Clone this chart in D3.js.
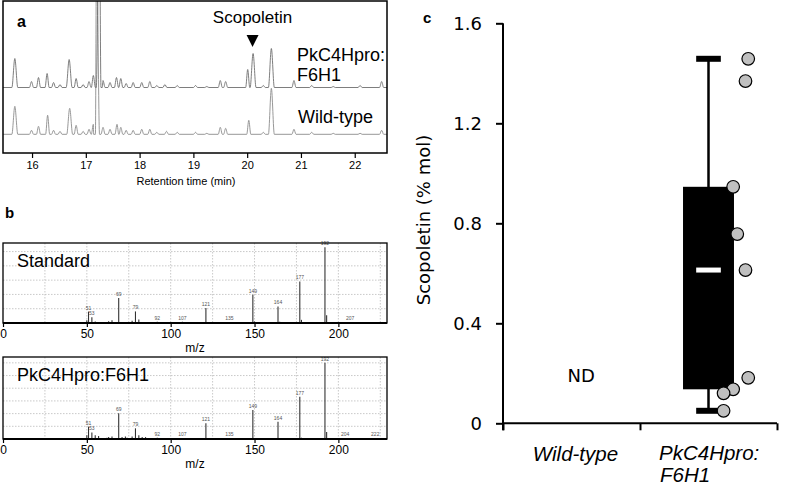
<!DOCTYPE html>
<html>
<head>
<meta charset="utf-8">
<script src="https://cdn.jsdelivr.net/npm/d3@7"></script>
<style>
  body { margin: 0; background: #fff; }
  svg { display: block; }
</style>
</head>
<body>
<svg id="chart" width="797" height="487"></svg>
<script>
// ---- panel a: GC chromatograms, retention time (min) and peak height (signal)
const rtF6H1 = [15.68, 15.99, 16.12, 16.28, 16.4, 16.52, 16.69, 16.82, 16.95, 17.06, 17.14, 17.25, 17.32, 17.45, 17.57, 17.65, 17.75, 17.88, 18.04, 18.19, 18.32, 18.47, 18.7, 19.04, 19.25, 19.5, 19.6, 20.01, 20.11, 20.3, 20.45, 20.87, 21.2, 21.6, 22.1, 22.5]
const sigF6H1 = [29, 6, 10, 14, 5, 3, 28, 9, 3, 6, 12, 200, 7, 5, 10, 9, 4, 5, 5, 6, 2, 3, 2, 2, 1, 7, 6, 18, 34, 2, 39, 7, 2, 1, 2, 6]
const rtWT = [15.68, 15.99, 16.12, 16.29, 16.4, 16.52, 16.7, 16.82, 16.95, 17.06, 17.14, 17.2, 17.32, 17.45, 17.58, 17.65, 17.75, 17.88, 18.04, 18.19, 18.32, 18.5, 18.7, 19.04, 19.25, 19.5, 19.6, 20.03, 20.3, 20.45, 20.87, 21.2, 21.6, 22.1, 22.5]
const sigWT = [28, 4, 8, 19, 4, 3, 26, 9, 3, 5, 10, 200, 7, 5, 10, 7, 4, 4, 5, 5, 2, 3, 2, 2, 1, 7, 6, 14, 2, 46, 5, 2, 1, 1, 4]
const rtTicks = [16, 17, 18, 19, 20, 21, 22]
const scopoletinRt = 20.1

// ---- panel b: mass spectra, m/z and relative abundance
const stdMz = [50, 51, 53, 55, 63, 65, 69, 77, 79, 81, 92, 107, 121, 135, 149, 150, 164, 165, 177, 178, 192, 193, 207]
const stdAbund = [0.2, 0.8, 0.4, 0.1, 0.12, 0.2, 1.75, 0.15, 0.81, 0.25, 0.08, 0.08, 1.05, 0.05, 1.98, 0.1, 1.16, 0.08, 2.91, 0.22, 5.31, 0.55, 0.04]
const stdLabels = [51, 53, 69, 79, 92, 107, 121, 135, 149, 164, 177, 192, 207]
const f6h1Mz = [50, 51, 53, 55, 57, 62, 63, 65, 69, 71, 73, 74, 77, 79, 81, 83, 85, 92, 94, 107, 109, 121, 135, 149, 164, 165, 177, 178, 192, 193, 204, 222]
const f6h1Abund = [0.3, 0.97, 0.52, 0.3, 0.23, 0.1, 0.15, 0.2, 2.02, 0.15, 0.2, 0.1, 0.2, 0.84, 0.3, 0.15, 0.15, 0.1, 0.08, 0.05, 0.05, 1.24, 0.05, 2.28, 1.36, 0.08, 3.33, 0.1, 6.0, 0.55, 0.05, 0.05]
const f6h1Labels = [51, 53, 69, 79, 92, 107, 121, 135, 149, 164, 177, 192, 204, 222]
const mzTicks = [0, 50, 100, 150, 200]

// ---- panel c: scopoletin content (% mol) per plant, with scatter x position
const categories = ['Wild-type', 'PkC4Hpro:']
const scopoletin = [1.458, 1.369, 0.946, 0.757, 0.613, 0.182, 0.136, 0.12, 0.05]
const scopoletinX = [2.29, 2.27, 2.18, 2.21, 2.27, 2.29, 2.18, 2.11, 2.11]
const contentTicks = [0, 0.4, 0.8, 1.2, 1.6]

const svg = d3.select('#chart')
const SANS = 'Liberation Sans, Arial, sans-serif'
const VERD = 'DejaVu Sans, Verdana, sans-serif'

// ================= panel a =================
const A = { left: 3, right: 387, top: 1, bottom: 153 }
const xA = d3.scaleLinear().domain([15.46, 22.6]).range([A.left, A.right])
const yA = d3.scaleLinear().domain([0, 152]).range([A.bottom, A.top])
// vertical offset of each trace (stacked chromatograms)
const OFFSET_F6H1 = 65.5
const OFFSET_WT = 18.7

const tracePoints = (rt, sig, offset) => {
  const pts = [[xA.domain()[0], 0], [xA.domain()[1], 0]]
  rt.forEach((t, i) => {
    const w = sig[i] > 20 ? 0.055 : 0.038
    pts.push([t - w, 0], [t, sig[i]], [t + w, 0])
  })
  pts.sort((a, b) => a[0] - b[0])
  return pts.map((p) => [p[0], p[1] + offset])
}

const line = d3.line()
  .x((d) => xA(d[0]))
  .y((d) => yA(d[1]))
  .curve(d3.curveMonotoneX)

svg.append('clipPath').attr('id', 'clipA')
  .append('rect')
  .attr('x', A.left).attr('y', A.top)
  .attr('width', A.right - A.left).attr('height', A.bottom - A.top)

const gA = svg.append('g')
gA.append('g').attr('clip-path', 'url(#clipA)')
  .selectAll('path')
  .data([tracePoints(rtWT, sigWT, OFFSET_WT), tracePoints(rtF6H1, sigF6H1, OFFSET_F6H1)])
  .join('path')
  .attr('d', line)
  .attr('fill', 'none')
  .attr('stroke', (d, i) => i === 1 ? '#6f6f6f' : '#8c8c8c')
  .attr('stroke-width', 0.9)

gA.append('rect')
  .attr('x', A.left).attr('y', A.top)
  .attr('width', A.right - A.left).attr('height', A.bottom - A.top)
  .attr('fill', 'none').attr('stroke', '#000').attr('stroke-width', 1.5)

gA.append('g')
  .attr('transform', `translate(0,${A.bottom})`)
  .call(d3.axisBottom(xA).tickValues(rtTicks).tickSize(5).tickPadding(3))
  .call((g) => {
    g.select('.domain').remove()
    g.selectAll('.tick line').attr('stroke', '#000').attr('stroke-width', 1.2)
    g.selectAll('.tick text').attr('font-family', SANS).attr('font-size', 11).attr('fill', '#000')
  })

gA.append('text').attr('x', 186).attr('y', 185)
  .attr('text-anchor', 'middle').attr('font-family', SANS).attr('font-size', 11)
  .text('Retention time (min)')

gA.append('text').attr('x', 17).attr('y', 27)
  .attr('font-family', SANS).attr('font-size', 16).attr('font-weight', 'bold')
  .text('a')

// scopoletin marker
const sx = xA(scopoletinRt)
gA.append('text').attr('x', sx).attr('y', 23)
  .attr('text-anchor', 'middle').attr('font-family', SANS).attr('font-size', 17)
  .text('Scopoletin')
gA.append('path')
  .attr('d', `M${sx - 6},35 L${sx + 6},35 L${sx},47 Z`)
  .attr('fill', '#000')

gA.append('text').attr('x', 297).attr('y', 60.5)
  .attr('font-family', SANS).attr('font-size', 18).text('PkC4Hpro:')
gA.append('text').attr('x', 297).attr('y', 81)
  .attr('font-family', SANS).attr('font-size', 18).text('F6H1')
gA.append('text').attr('x', 298).attr('y', 123)
  .attr('font-family', SANS).attr('font-size', 18).text('Wild-type')

// ================= panel b =================
const xB = d3.scaleLinear().domain([0, 229]).range([3, 387])

const drawSpectrum = ({ top, bottom, yMax, mz, abund, labels, name }) => {
  return (g) => {
    const y = d3.scaleLinear().domain([0, yMax]).range([bottom, top])
    const peaks = mz.map((m, i) => ({ mz: m, ab: abund[i] }))

    // dotted grid
    g.append('g').selectAll('line')
      .data(d3.range(25, 229, 25))
      .join('line')
      .attr('x1', (d) => xB(d)).attr('x2', (d) => xB(d))
      .attr('y1', top).attr('y2', bottom)
      .attr('stroke', '#bbb').attr('stroke-width', 0.8).attr('stroke-dasharray', '1.5,1.5')
    g.append('g').selectAll('line')
      .data(d3.range(1, Math.floor(yMax) + 1))
      .join('line')
      .attr('x1', xB(0)).attr('x2', xB(229))
      .attr('y1', (d) => y(d)).attr('y2', (d) => y(d))
      .attr('stroke', '#bbb').attr('stroke-width', 0.8).attr('stroke-dasharray', '1.5,1.5')

    g.append('g').selectAll('line')
      .data(peaks)
      .join('line')
      .attr('x1', (d) => xB(d.mz)).attr('x2', (d) => xB(d.mz))
      .attr('y1', y(0)).attr('y2', (d) => y(d.ab))
      .attr('stroke', '#333').attr('stroke-width', 1.1)

    g.append('g').selectAll('text')
      .data(peaks.filter((d) => labels.includes(d.mz)))
      .join('text')
      .attr('x', (d) => xB(d.mz)).attr('y', (d) => y(d.ab) - 2)
      .attr('text-anchor', 'middle').attr('font-family', SANS).attr('font-size', 5)
      .attr('fill', '#555')
      .text((d) => d.mz)

    g.append('rect')
      .attr('x', 3).attr('y', top).attr('width', 384).attr('height', bottom - top)
      .attr('fill', 'none').attr('stroke', '#000').attr('stroke-width', 1.3)
    g.append('line')
      .attr('x1', 3).attr('x2', 387).attr('y1', bottom).attr('y2', bottom)
      .attr('stroke', '#000').attr('stroke-width', 2)

    g.append('g')
      .attr('transform', `translate(0,${bottom})`)
      .call(d3.axisBottom(xB).tickValues(mzTicks).tickSize(4).tickPadding(2))
      .call((a) => {
        a.select('.domain').remove()
        a.selectAll('.tick line').attr('stroke', '#000').attr('stroke-width', 1.2)
        a.selectAll('.tick text').attr('font-family', SANS).attr('font-size', 12).attr('fill', '#000')
      })

    g.append('text').attr('x', 195).attr('y', bottom + 29)
      .attr('text-anchor', 'middle').attr('font-family', SANS).attr('font-size', 12)
      .text('m/z')

    g.append('text').attr('x', 17).attr('y', top + 24)
      .attr('font-family', SANS).attr('font-size', 18)
      .text(name)
  }
}

svg.append('g').call(drawSpectrum({
  top: 243, bottom: 323, yMax: 5.6, mz: stdMz, abund: stdAbund, labels: stdLabels, name: 'Standard'
}))
svg.append('g').call(drawSpectrum({
  top: 357, bottom: 439, yMax: 6.46, mz: f6h1Mz, abund: f6h1Abund, labels: f6h1Labels, name: 'PkC4Hpro:F6H1'
}))

svg.append('text').attr('x', 5).attr('y', 218)
  .attr('font-family', SANS).attr('font-size', 15).attr('font-weight', 'bold')
  .text('b')

// ================= panel c =================
const C = { left: 503, right: 777, top: 23.3, bottom: 423.3 }
const xC = d3.scaleLinear().domain([0.5, 2.5]).range([C.left, C.right])
const yC = d3.scaleLinear().domain([0, 1.6]).range([C.bottom, C.top])
const gC = svg.append('g')

gC.append('g')
  .attr('transform', `translate(${C.left},0)`)
  .call(d3.axisLeft(yC).tickValues(contentTicks).tickSize(7).tickPadding(14).tickFormat((d) => String(d)))
  .call((g) => {
    g.select('.domain').attr('stroke', '#000').attr('stroke-width', 2)
      .attr('d', `M0,${C.top}V${C.bottom + 7}`)
    g.selectAll('.tick line').attr('stroke', '#000').attr('stroke-width', 2)
    g.selectAll('.tick text').attr('font-family', VERD).attr('font-size', 18).attr('fill', '#000')
  })

gC.append('g')
  .attr('transform', `translate(0,${C.bottom})`)
  .call(d3.axisBottom(xC).tickValues([0.5, 1.5, 2.5]).tickSize(7).tickFormat(''))
  .call((g) => {
    g.select('.domain').attr('stroke', '#000').attr('stroke-width', 2)
      .attr('d', `M${C.left},0H${C.right}`)
    g.selectAll('.tick line').attr('stroke', '#000').attr('stroke-width', 2)
  })

gC.append('text')
  .attr('transform', `translate(430,220) rotate(-90)`)
  .attr('text-anchor', 'middle').attr('font-family', VERD).attr('font-size', 18)
  .text('Scopoletin (% mol)')

gC.append('text').attr('x', 423).attr('y', 23)
  .attr('font-family', SANS).attr('font-size', 15).attr('font-weight', 'bold')
  .text('c')

// category labels
gC.append('text').attr('x', xC(1) + 4).attr('y', 461)
  .attr('text-anchor', 'middle').attr('font-family', SANS).attr('font-size', 20.5).attr('font-style', 'italic')
  .text(categories[0])
gC.append('text').attr('x', 659).attr('y', 459.5)
  .attr('font-family', SANS).attr('font-size', 20.5).attr('font-style', 'italic')
  .call((t) => {
    t.append('tspan').attr('x', 659).text(categories[1])
    t.append('tspan').attr('x', 660).attr('dy', 22.5).text('F6H1')
  })

gC.append('text').attr('x', xC(1.07)).attr('y', yC(0.166))
  .attr('text-anchor', 'middle').attr('font-family', VERD).attr('font-size', 18)
  .text('ND')

// box plot from the individual values
const sorted = scopoletin.slice().sort(d3.ascending)
const stats = {
  min: d3.min(sorted),
  q1: d3.quantile(sorted, 0.25),
  med: d3.quantile(sorted, 0.5),
  q3: d3.quantile(sorted, 0.75),
  max: d3.max(sorted)
}
const BOX_HALF = 0.186
const CAP_HALF = 0.09
const cx = xC(2)

gC.append('line')
  .attr('x1', cx).attr('x2', cx)
  .attr('y1', yC(stats.max)).attr('y2', yC(stats.min))
  .attr('stroke', '#000').attr('stroke-width', 2.5)
gC.selectAll('.cap')
  .data([stats.min, stats.max])
  .join('line').attr('class', 'cap')
  .attr('x1', xC(2 - CAP_HALF)).attr('x2', xC(2 + CAP_HALF))
  .attr('y1', (d) => yC(d)).attr('y2', (d) => yC(d))
  .attr('stroke', '#000').attr('stroke-width', 6)
gC.append('rect')
  .attr('x', xC(2 - BOX_HALF)).attr('width', xC(2 + BOX_HALF) - xC(2 - BOX_HALF))
  .attr('y', yC(stats.q3)).attr('height', yC(stats.q1) - yC(stats.q3))
  .attr('fill', '#000')
gC.append('line')
  .attr('x1', xC(2 - CAP_HALF)).attr('x2', xC(2 + CAP_HALF))
  .attr('y1', yC(stats.med)).attr('y2', yC(stats.med))
  .attr('stroke', '#fff').attr('stroke-width', 5)

gC.selectAll('circle')
  .data(scopoletin.map((v, i) => ({ v, x: scopoletinX[i] })))
  .join('circle')
  .attr('cx', (d) => xC(d.x)).attr('cy', (d) => yC(d.v))
  .attr('r', 6.3)
  .attr('fill', '#c0c0c0').attr('stroke', '#000').attr('stroke-width', 1.2)
</script>
</body>
</html>
